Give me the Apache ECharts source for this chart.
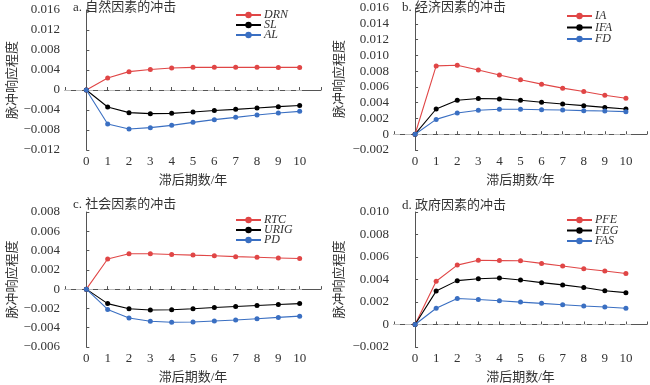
<!DOCTYPE html>
<html><head><meta charset="utf-8">
<script src="https://cdn.jsdelivr.net/npm/echarts@6/dist/echarts.min.js"></script>
<style>html,body{margin:0;padding:0;background:#fff}#c{width:650px;height:385px}</style>
</head><body><div id="c"></div>
<script>
const lags = [0,1,2,3,4,5,6,7,8,9,10];
// a. natural
const DRN = [0,0.0024,0.00367,0.0041,0.0044,0.00453,0.00453,0.00453,0.00453,0.00452,0.00452];
const SL  = [0,-0.0034,-0.00453,-0.00473,-0.00467,-0.0044,-0.0041,-0.00387,-0.0036,-0.00333,-0.0031];
const AL  = [0,-0.0068,-0.0078,-0.00753,-0.00707,-0.00647,-0.00593,-0.00547,-0.005,-0.0046,-0.00427];
// b. economic
const IA  = [0,0.00866,0.00874,0.00814,0.0075,0.0069,0.00635,0.00584,0.00542,0.00495,0.00456];
const IFA = [0,0.0032,0.0043,0.00452,0.00448,0.0043,0.00405,0.00384,0.00362,0.0034,0.0032];
const FD  = [0,0.00188,0.00269,0.00303,0.00316,0.00316,0.00311,0.00307,0.00299,0.00294,0.00286];
// c. social
const RTC  = [0,0.00313,0.00367,0.00367,0.0036,0.00353,0.00347,0.00337,0.0033,0.00323,0.00317];
const URIG = [0,-0.0015,-0.00203,-0.00217,-0.00213,-0.00203,-0.0019,-0.0018,-0.0017,-0.0016,-0.0015];
const PD   = [0,-0.0021,-0.003,-0.00333,-0.00343,-0.0034,-0.0033,-0.0032,-0.00307,-0.00293,-0.0028];
// d. government
const PFE = [0,0.00384,0.00528,0.00571,0.00568,0.00566,0.00543,0.0052,0.00496,0.00476,0.00453];
const FEG = [0,0.00297,0.0039,0.00407,0.00413,0.00395,0.00372,0.00352,0.00329,0.003,0.00283];
const FAS = [0,0.00144,0.00231,0.00222,0.00211,0.00199,0.00188,0.00176,0.00164,0.00156,0.00144];

const titles = ['a. 自然因素的冲击','b. 经济因素的冲击','c. 社会因素的冲击','d. 政府因素的冲击'];
const yRanges = [[-0.012,0.016,0.004],[-0.002,0.016,0.002],[-0.006,0.008,0.002],[-0.002,0.010,0.002]];
const panels = [
  [['DRN',DRN],['SL',SL],['AL',AL]],
  [['IA',IA],['IFA',IFA],['FD',FD]],
  [['RTC',RTC],['URIG',URIG],['PD',PD]],
  [['PFE',PFE],['FEG',FEG],['FAS',FAS]]
];
const xLabel = '滞后期数/年';
const yLabel = '脉冲响应程度';

const colors = ['#e04646','#000000','#3a6fc2'];
const FONT = 'Liberation Serif, Noto Sans CJK SC, serif';
const grids = [
  {left:65, top:10, width:256, height:140},
  {left:394, top:8, width:255, height:142},
  {left:65, top:212, width:256, height:140},
  {left:394, top:212, width:255, height:139}
];
const titlePos = [[73,1],[402,1],[73,198],[402,199]];
const legendPos = [[235,9,-2],[566,10,-0.5],[235,214,-2],[566,214,-1.5]];

const option = {
  animation:false,
  backgroundColor:'#fff',
  title: titles.map((t,i)=>({text:t,left:titlePos[i][0],top:titlePos[i][1],padding:0,
    textStyle:{fontSize:13,fontWeight:'normal',color:'#333',fontFamily:FONT}})),
  grid: grids,
  legend: panels.map((p,i)=>({
    data:p.map(s=>s[0]), orient:'vertical', left:legendPos[i][0], top:legendPos[i][1],
    itemWidth:25, itemHeight:8, itemGap:legendPos[i][2], padding:0,
    textStyle:{fontSize:12,fontStyle:'italic',fontFamily:FONT,color:'#333',lineHeight:10,padding:[0,0,0,-2]}
  })),
  xAxis: grids.map((g,i)=>({
    type:'value', gridIndex:i, min:-1, max:11, interval:1,
    name:xLabel, nameLocation:'middle', nameGap:24,
    nameTextStyle:{fontSize:13,color:'#333',fontFamily:FONT},
    axisLine:{lineStyle:{color:'#555',width:1}},
    axisTick:{inside:true,length:3,lineStyle:{color:'#555'}},
    axisLabel:{fontSize:13,color:'#333',fontFamily:FONT,margin:5,
      formatter:v=>(v>=0&&v<=10)?String(v):''},
    splitLine:{show:false}
  })),
  yAxis: yRanges.map((r,i)=>({
    type:'value', gridIndex:i, min:r[0], max:r[1], interval:r[2],
    name:yLabel, nameLocation:'middle', nameGap:i%2===0?44:48, nameRotate:90,
    nameTextStyle:{fontSize:13,color:'#333',fontFamily:FONT},
    axisLine:{show:true,lineStyle:{color:'#555',width:1}},
    axisTick:{show:true,inside:true,length:3,lineStyle:{color:'#555'}},
    axisLabel:{fontSize:13,color:'#333',fontFamily:FONT,margin:5,
      formatter:v=>{ if(Math.abs(v)<1e-9) return '0'; const s=Math.abs(v).toFixed(3); return v<0?'\u2212'+s:s; }},
    splitLine:{show:false}
  })),
  series: []
};
panels.forEach((p,i)=>{
  p.forEach((s,j)=>{
    const ser = {
      name:s[0], type:'line', xAxisIndex:i, yAxisIndex:i,
      data:lags.map((x,k)=>[x,s[1][k]]),
      symbol:'circle', symbolSize:5, z:3+j,
      lineStyle:{color:colors[j],width:1.1},
      itemStyle:{color:colors[j]}
    };
    if(j===0){
      ser.markLine = {silent:true, symbol:'none', label:{show:false},
        lineStyle:{color:'#bbb',type:[6,5],width:1},
        data:[[{coord:[-1,0]},{coord:[10.3,0]}]]};
    }
    option.series.push(ser);
  });
});
const chart = echarts.init(document.getElementById('c'),null,{renderer:'canvas'});
chart.setOption(option);
</script></body></html>
